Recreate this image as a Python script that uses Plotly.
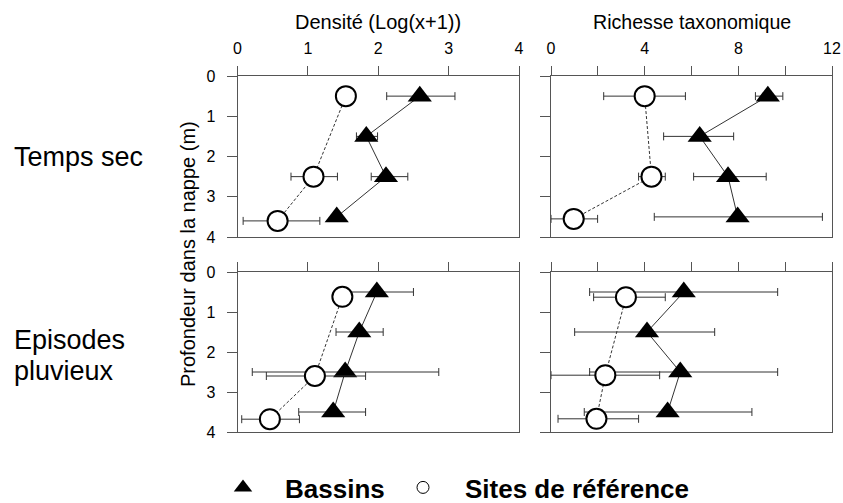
import plotly.graph_objects as go

# ---------------- data ----------------
depth_bassins = [0.5, 1.5, 2.5, 3.5]

# Temps sec - Densité
ts_dens_bas = [2.59, 1.83, 2.11, 1.41]
ts_dens_bas_lo = [2.12, 1.69, 1.90, 1.41]
ts_dens_bas_hi = [3.09, 1.99, 2.42, 1.41]
ts_dens_ref_depth = [0.5, 2.5, 3.6]
ts_dens_ref = [1.54, 1.08, 0.57]
ts_dens_ref_lo = [1.54, 0.76, 0.08]
ts_dens_ref_hi = [1.54, 1.42, 1.17]

# Temps sec - Richesse
ts_rich_bas = [9.26, 6.35, 7.56, 7.97]
ts_rich_bas_lo = [8.73, 4.81, 6.09, 4.41]
ts_rich_bas_hi = [9.90, 7.80, 9.19, 11.59]
ts_rich_ref_depth = [0.5, 2.5, 3.55]
ts_rich_ref = [4.0, 4.29, 0.97]
ts_rich_ref_lo = [2.25, 3.74, 0.0]
ts_rich_ref_hi = [5.74, 4.88, 1.99]

# Episodes pluvieux - Densité
ep_dens_bas = [1.98, 1.73, 1.53, 1.36]
ep_dens_bas_lo = [1.46, 1.40, 0.21, 0.87]
ep_dens_bas_hi = [2.50, 2.07, 2.86, 1.82]
ep_dens_ref_depth = [0.62, 2.6, 3.68]
ep_dens_ref = [1.49, 1.10, 0.46]
ep_dens_ref_lo = [1.49, 0.41, 0.06]
ep_dens_ref_hi = [1.49, 1.82, 0.88]

# Episodes pluvieux - Richesse
ep_rich_bas = [5.67, 4.10, 5.52, 4.98]
ep_rich_bas_lo = [1.65, 1.01, 1.65, 1.42]
ep_rich_bas_hi = [9.68, 6.99, 9.68, 8.58]
ep_rich_ref_depth = [0.63, 2.58, 3.67]
ep_rich_ref = [3.20, 2.32, 1.94]
ep_rich_ref_lo = [1.82, 0.0, 0.30]
ep_rich_ref_hi = [4.88, 4.64, 3.74]

dens_ticks = [0, 1, 2, 3, 4]
rich_ticks = [0, 2, 4, 6, 8, 10, 12]
rich_ticktext = ["0", "", "4", "", "8", "", "12"]
depth_ticks = [0, 1, 2, 3, 4]

row_label_dry = "Temps sec"
row_label_rain = ["Episodes", "pluvieux"]
col_titles = ["Densité (Log(x+1))", "Richesse taxonomique"]
y_title = "Profondeur dans la nappe (m)"
legend_names = ["Bassins", "Sites de référence"]

# ---------------- figure ----------------
W, H = 843, 503
FONT = "Arial, Liberation Sans, sans-serif"
LC = "#555555"

fig = go.Figure()


def err(x, lo, hi):
    return dict(type="data", symmetric=False,
                array=[h - v for v, h in zip(x, hi)],
                arrayminus=[v - l for v, l in zip(x, lo)],
                color="#333333", thickness=1, width=4)


panels = [
    ("x", "y", ts_dens_bas, ts_dens_bas_lo, ts_dens_bas_hi,
     ts_dens_ref_depth, ts_dens_ref, ts_dens_ref_lo, ts_dens_ref_hi),
    ("x2", "y2", ts_rich_bas, ts_rich_bas_lo, ts_rich_bas_hi,
     ts_rich_ref_depth, ts_rich_ref, ts_rich_ref_lo, ts_rich_ref_hi),
    ("x3", "y3", ep_dens_bas, ep_dens_bas_lo, ep_dens_bas_hi,
     ep_dens_ref_depth, ep_dens_ref, ep_dens_ref_lo, ep_dens_ref_hi),
    ("x4", "y4", ep_rich_bas, ep_rich_bas_lo, ep_rich_bas_hi,
     ep_rich_ref_depth, ep_rich_ref, ep_rich_ref_lo, ep_rich_ref_hi),
]

for xa, ya, bx, blo, bhi, rd, rx, rlo, rhi in panels:
    fig.add_trace(go.Scatter(
        x=bx, y=depth_bassins, xaxis=xa, yaxis=ya, mode="lines+markers",
        line=dict(color="#333333", width=1),
        marker=dict(symbol="triangle-up", size=21, color="black"),
        error_x=err(bx, blo, bhi), showlegend=False, cliponaxis=False))
    fig.add_trace(go.Scatter(
        x=rx, y=rd, xaxis=xa, yaxis=ya, mode="lines+markers",
        line=dict(color="#333333", width=1, dash="3px,2px"),
        marker=dict(symbol="circle", size=20, color="white",
                    line=dict(color="black", width=2)),
        error_x=err(rx, rlo, rhi), showlegend=False, cliponaxis=False))

# legend-only traces (one legend box each)
fig.add_trace(go.Scatter(x=[None], y=[None], mode="markers", name=legend_names[0],
                         legend="legend",
                         marker=dict(symbol="triangle-up", size=16, color="black")))
fig.add_trace(go.Scatter(x=[None], y=[None], mode="markers", name=legend_names[1],
                         legend="legend2",
                         marker=dict(symbol="circle", size=12, color="white",
                                     line=dict(color="black", width=1))))

xl = [237.5 / W, 519 / W]
xr = [551 / W, 832 / W]
yt = [1 - 237 / H, 1 - 76 / H]
yb = [1 - 432 / H, 1 - 272 / H]

common_x = dict(side="top", showline=True, linecolor=LC, linewidth=1, mirror=True,
                ticks="outside", ticklen=9, tickcolor=LC, showgrid=False,
                zeroline=False, tickfont=dict(size=16, color="black", family=FONT),
                ticklabelstandoff=6, automargin=False)
common_y = dict(showline=True, linecolor=LC, linewidth=1, mirror=True,
                ticks="outside", ticklen=10, tickcolor=LC, showgrid=False,
                zeroline=False, range=[4, 0], tickvals=depth_ticks,
                tickfont=dict(size=16, color="black", family=FONT),
                ticklabelstandoff=8, automargin=False)

legend_common = dict(orientation="h", xanchor="left", y=-8 / H, yanchor="bottom",
                     font=dict(size=26, family=FONT, weight="bold"),
                     itemsizing="trace", itemwidth=74, bgcolor="rgba(0,0,0,0)")

fig.update_layout(
    width=W, height=H, margin=dict(l=0, r=0, t=0, b=0, autoexpand=False),
    plot_bgcolor="white", paper_bgcolor="white",
    font=dict(family=FONT, color="black"),
    xaxis=dict(domain=xl, anchor="y", range=[0, 4], tickvals=dens_ticks, **common_x),
    xaxis2=dict(domain=xr, anchor="y2", range=[0, 12], tickvals=rich_ticks,
                ticktext=rich_ticktext, **common_x),
    xaxis3=dict(domain=xl, anchor="y3", range=[0, 4], tickvals=dens_ticks,
                showticklabels=False, **common_x),
    xaxis4=dict(domain=xr, anchor="y4", range=[0, 12], tickvals=rich_ticks,
                showticklabels=False, **common_x),
    yaxis=dict(domain=yt, anchor="x", **common_y),
    yaxis2=dict(domain=yt, anchor="x2", showticklabels=False, **common_y),
    yaxis3=dict(domain=yb, anchor="x3", **common_y),
    yaxis4=dict(domain=yb, anchor="x4", showticklabels=False, **common_y),
    showlegend=True,
    legend=dict(x=201 / W, **legend_common),
    legend2=dict(x=381 / W, **legend_common),
)

annotations = [
    dict(text=col_titles[0], x=(xl[0] + xl[1]) / 2, y=1 - 22 / H, font=dict(size=20)),
    dict(text=col_titles[1], x=(xr[0] + xr[1]) / 2, y=1 - 22 / H, font=dict(size=19.6)),
    dict(text=y_title, x=188 / W, y=1 - 254 / H, textangle=-90, font=dict(size=20)),
    dict(text=row_label_dry, x=12 / W, y=1 - 157 / H, xanchor="left", font=dict(size=27)),
    dict(text=row_label_rain[0], x=12 / W, y=1 - 340 / H, xanchor="left", font=dict(size=27)),
    dict(text=row_label_rain[1], x=12 / W, y=1 - 371 / H, xanchor="left", font=dict(size=27)),
]
for a in annotations:
    a.setdefault("xanchor", "center")
    a.update(xref="paper", yref="paper", showarrow=False, yanchor="middle")
    a["font"].update(family=FONT, color="black")
    fig.add_annotation(**a)

fig.write_html("out.html", config={"displayModeBar": False},
               post_script="document.body.style.margin='0';document.body.style.padding='0';")
